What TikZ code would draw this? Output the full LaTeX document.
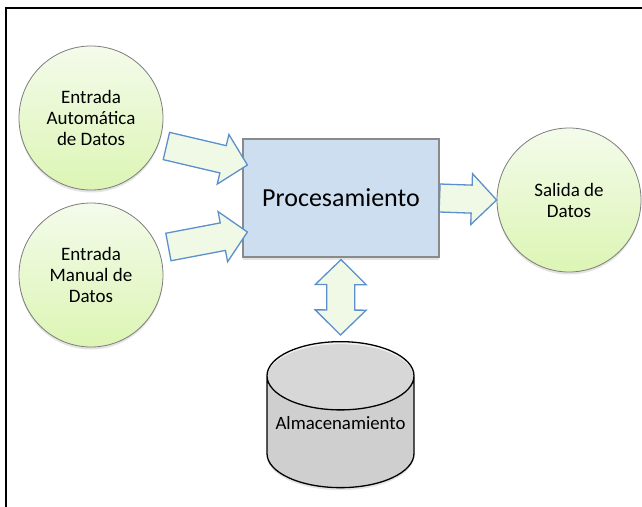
\documentclass[tikz,border=0pt]{standalone}
\usepackage{fontspec}
\setmainfont{Carlito}
\usepackage{tikz}
\usetikzlibrary{shapes.geometric, calc, shadows}
\definecolor{verdeclaro}{RGB}{244, 251, 235}
\definecolor{verdebase}{RGB}{220, 245, 180}
\definecolor{azulproc}{RGB}{205, 222, 240}
\definecolor{bordegris}{RGB}{125, 125, 125}
\definecolor{azulflecha}{RGB}{92, 144, 205}
\definecolor{rellenoflecha}{RGB}{240, 249, 229}
\definecolor{grisdisco}{RGB}{230, 230, 230}
\definecolor{gristapa}{RGB}{240, 240, 240}
\tikzset{
  sombra/.style={drop shadow={opacity=0.22, shadow xshift=0pt, shadow yshift=-2.5pt}},
  circulo/.style={circle, minimum size=144pt, inner sep=0pt, draw=bordegris,
    line width=0.8pt, top color=verdeclaro, bottom color=verdebase,
    align=center, font=\fontsize{19}{21}\selectfont, sombra},
  proceso/.style={rectangle, minimum width=196pt, minimum height=118pt,
    draw=bordegris!90, line width=1.2pt, fill=azulproc,
    font=\fontsize{26}{30}\selectfont, sombra},
  cilindro/.style={cylinder, shape border rotate=90, aspect=0.5,
    minimum width=147pt, minimum height=146pt, draw=black, line width=1.3pt,
    cylinder uses custom fill, cylinder body fill=grisdisco,
    cylinder end fill=gristapa, font=\fontsize{18.8}{21}\selectfont, sombra},
  flecha/.style={draw=azulflecha, line width=1.3pt, fill=rellenoflecha,
    line join=miter}
}
% flecha de bloque simple: cola en #1, punta en #2
\newcommand{\flechaSimple}[2]{%
  \coordinate (fb) at ($(#2)!25pt!(#1)$);
  \draw[flecha] ($(#1)!14pt!90:(#2)$) -- ($(fb)!14pt!-90:(#1)$)
    -- ($(fb)!25.5pt!-90:(#1)$) -- (#2) -- ($(fb)!25.5pt!90:(#1)$)
    -- ($(fb)!14pt!90:(#1)$) -- ($(#1)!14pt!-90:(#2)$) -- cycle;}
% flecha de bloque doble entre #1 y #2
\newcommand{\flechaDoble}[2]{%
  \coordinate (fa) at ($(#1)!25pt!(#2)$);
  \coordinate (fb) at ($(#2)!25pt!(#1)$);
  \draw[flecha] (#1) -- ($(fa)!25.5pt!90:(#2)$) -- ($(fa)!14pt!90:(#2)$)
    -- ($(fb)!14pt!-90:(#1)$) -- ($(fb)!25.5pt!-90:(#1)$) -- (#2)
    -- ($(fb)!25.5pt!90:(#1)$) -- ($(fb)!14pt!90:(#1)$)
    -- ($(fa)!14pt!-90:(#2)$) -- ($(fa)!25.5pt!-90:(#2)$) -- cycle;}

\begin{document}
\begin{tikzpicture}[x=1pt, y=-1pt]
\useasboundingbox (0,0) rectangle (642,506);
\fill[white] (0,0) rectangle (642,506);
\draw[line width=1.5pt] (6,8) rectangle (720,600);

\node (auto) [circulo] at (91,118) {Entrada\\Automática\\de Datos};
\node (man)  [circulo] at (91,275) {Entrada\\Manual de\\Datos};
\node (sal)  [circulo] at (569,200) {Salida de\\Datos};
\node (proc) [proceso] at (341,198) {Procesamiento};
\node (alm)  [cilindro, anchor=north] at (340.5,341)
      {\raisebox{8pt}[0pt][0pt]{Almacenamiento}};

% extremos de las flechas
\coordinate (c1) at ([shift={(3,28)}]auto.east);
\coordinate (p1) at ([shift={(5,-33)}]proc.west);
\coordinate (c2) at ([shift={(5,-28)}]man.east);
\coordinate (p2) at ([shift={(5,34)}]proc.west);
\coordinate (ps) at ([shift={(0,2)}]proc.south);
\coordinate (an) at ([shift={(0,-6)}]alm.north);

\flechaSimple{c1}{p1}
\flechaSimple{c2}{p2}
\flechaSimple{proc.east}{sal.west}
\flechaDoble{ps}{an}
\end{tikzpicture}
\end{document}
